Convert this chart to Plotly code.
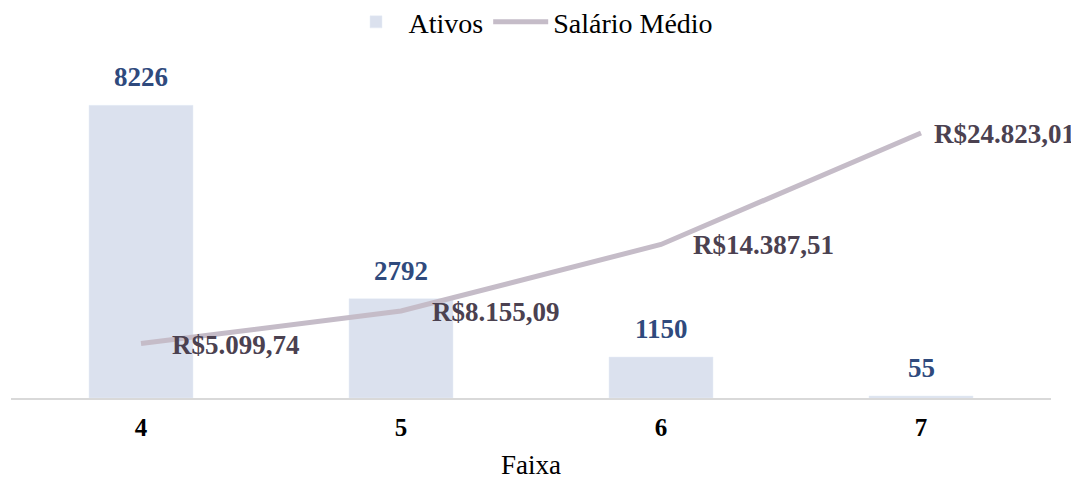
import plotly.graph_objects as go

faixas = ["4", "5", "6", "7"]
ativos = [8226, 2792, 1150, 55]
salario = [5099.74, 8155.09, 14387.51, 24823.01]
salario_labels = ["R$5.099,74", "R$8.155,09", "R$14.387,51", "R$24.823,01"]

SERIF = "Liberation Serif, serif"
BAR_COLOR = "#dbe1ee"
BAR_LABEL = "#2f4a7d"
LINE_COLOR = "#c5bcc8"
LINE_LABEL = "#4b4150"

fig = go.Figure()
fig.add_trace(go.Bar(
    x=faixas, y=ativos, name="Ativos", marker_color=BAR_COLOR, width=0.4,
))
fig.add_trace(go.Scatter(
    x=faixas, y=salario, name="Salário Médio", yaxis="y2", mode="lines",
    line=dict(color=LINE_COLOR, width=5),
))

for i, v in enumerate(ativos):
    fig.add_annotation(x=i, y=v, xref="x", yref="y", text=f"<b>{v}</b>", showarrow=False,
                       xanchor="center", yanchor="bottom", yshift=11,
                       font=dict(family=SERIF, size=27, color=BAR_LABEL))

xshifts = [29, 29, 30, 11]
for i, (y, t, xs) in enumerate(zip(salario, salario_labels, xshifts)):
    fig.add_annotation(x=i, y=y, xref="x", yref="y2", text=f"<b>{t}</b>", showarrow=False,
                       xanchor="left", yanchor="middle", xshift=xs, yshift=-1,
                       font=dict(family=SERIF, size=27, color=LINE_LABEL))

fig.update_layout(
    width=1071, height=472,
    margin=dict(l=3, r=28, t=52, b=82, autoexpand=False),
    paper_bgcolor="white", plot_bgcolor="white",
    bargap=0.6,
    showlegend=True,
    font=dict(family=SERIF),
    legend=dict(orientation="h", x=0.5, xanchor="center", y=0.970, yref="container",
                yanchor="middle", font=dict(family=SERIF, size=28, color="#000000"),
                itemwidth=55, tracegroupgap=0),
    xaxis=dict(type="category", categoryarray=faixas, range=[-0.5, len(faixas) - 0.5],
               showline=True, linecolor="#d9d9d9", linewidth=2, automargin=False,
               showgrid=False, ticks="", ticklabelstandoff=6,
               tickfont=dict(family=SERIF, size=25, color="#000000", weight="bold"),
               title=dict(text="Faixa", standoff=16,
                          font=dict(family=SERIF, size=27, color="#000000"))),
    yaxis=dict(range=[0, 9500], visible=False, showgrid=False, automargin=False),
    yaxis2=dict(range=[0, 31670], overlaying="y", side="right", visible=False,
                showgrid=False, automargin=False),
)

fig.write_html("out.html")
